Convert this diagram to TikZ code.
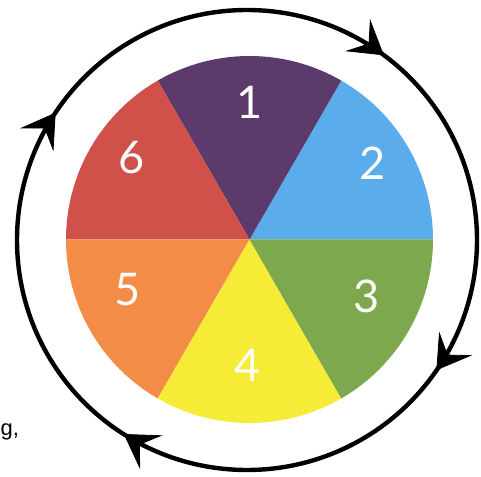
\documentclass[tikz,border=0pt]{standalone}
\usepackage{fontspec}
\setmainfont{Lato}
\newfontfamily\gfont{Liberation Sans}
\definecolor{cpurple}{HTML}{5C3A6B}
\definecolor{cblue}{HTML}{5AACEA}
\definecolor{cgreen}{HTML}{7DA84E}
\definecolor{cyellow}{HTML}{F6EC38}
\definecolor{corange}{HTML}{F28C46}
\definecolor{cred}{HTML}{D0504A}
\tikzset{
  digit/.style={text=white, font=\fontsize{45}{45}\selectfont, inner sep=0pt},
  ring/.style={line width=4.4pt, black},
  barb/.style={fill=black, draw=black, line width=0.8pt, line join=miter}
}
\begin{document}
\begin{tikzpicture}[x=1pt, y=1pt]
\useasboundingbox (0,0) rectangle (481,476);
\coordinate (wc) at (249.5,236.5);
\coordinate (oc) at (247,236);
\def\R{183.5}
\fill[cblue]   (wc) -- ++(0:\R)   arc[start angle=0,   end angle=60,  radius=\R] -- cycle;
\fill[cpurple] (wc) -- ++(60:\R)  arc[start angle=60,  end angle=120, radius=\R] -- cycle;
\fill[cred]    (wc) -- ++(120:\R) arc[start angle=120, end angle=180, radius=\R] -- cycle;
\fill[corange] (wc) -- ++(180:\R) arc[start angle=180, end angle=240, radius=\R] -- cycle;
\fill[cyellow] (wc) -- ++(240:\R) arc[start angle=240, end angle=300, radius=\R] -- cycle;
\fill[cgreen]  (wc) -- ++(300:\R) arc[start angle=300, end angle=360, radius=\R] -- cycle;
\node[digit] (n1) at (250,374) {1};
\node[digit] (n2) at (373,313) {2};
\node[digit] (n3) at (367,180) {3};
\node[digit] (n4) at (248,111) {4};
\node[digit] (n5) at (128,186) {5};
\node[digit] (n6) at (132,318) {6};
\draw[ring] (oc) circle[radius=230];
\foreach \a/\nm in {54.4/t1,-33.6/t2,-121.5/t3,147.3/t4}{
  \coordinate (\nm) at ([shift={(oc)}] \a:230);
  \begin{scope}[shift={(\nm)}, rotate=\a-92]
    \draw[barb] (3,0) -- (-28,19) -- (-15,0) -- (-28,-19) -- cycle;
  \end{scope}
}
\node[font=\gfont\fontsize{22}{22}\selectfont, anchor=base west, inner sep=0pt] (gtext) at (0.5,41) {g,};
\end{tikzpicture}
\end{document}
